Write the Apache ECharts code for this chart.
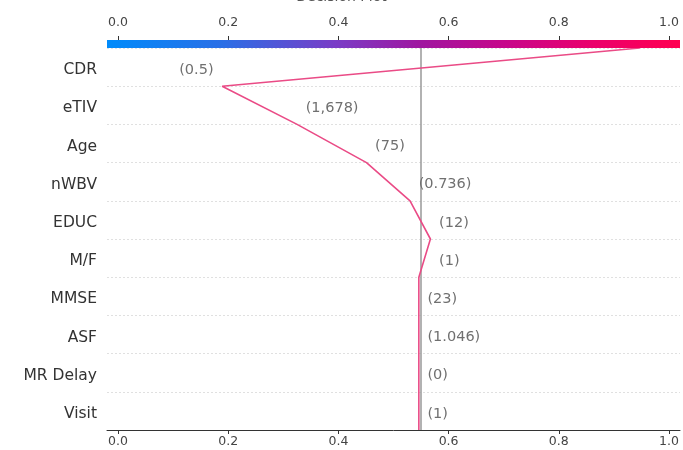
<!DOCTYPE html>
<html>
<head>
<meta charset="utf-8">
<script src="https://cdn.jsdelivr.net/npm/echarts@6/dist/echarts.min.js"></script>
<style>html,body{margin:0;padding:0;background:#fff;}#c{width:683px;height:450px;}</style>
</head>
<body>
<div id="c"></div>
<script>
// Features, top to bottom
var features = ['CDR', 'eTIV', 'Age', 'nWBV', 'EDUC', 'M/F', 'MMSE', 'ASF', 'MR Delay', 'Visit'];
// Feature values shown in parentheses
var featureValues = [0.5, 1678, 75, 0.736, 12, 1, 23, 1.046, 0, 1];
// Cumulative model output at row boundaries, from the top (final output) down to the base value
var boundaryValues = [0.947, 0.189, 0.325, 0.451, 0.530, 0.567, 0.546, 0.546, 0.546, 0.546, 0.546];
var baseValue = 0.546;
var tickValues = [0, 0.2, 0.4, 0.6, 0.8, 1.0];

function fmt(v) {
  var s = v.toLocaleString('en-US', {minimumFractionDigits: 3, maximumFractionDigits: 3});
  s = s.replace(/0+$/, '').replace(/\.$/, '');
  return '(' + s + ')';
}

var chart = echarts.init(document.getElementById('c'), null, {renderer: 'canvas'});
var X0 = 107, X1 = 680;
var XMIN = -0.02, XMAX = 1.02;

var lineData = boundaryValues.map(function (v, i) { return [v, i]; });

var labelData = features.map(function (f, i) {
  var a = boundaryValues[i], b = boundaryValues[i + 1];
  var mx = Math.max(a, b), mn = Math.min(a, b);
  var right = mx < 0.85;
  return {
    value: [right ? mx : mn, i + 0.5],
    label: {
      show: true,
      formatter: right ? ' ' + fmt(featureValues[i]) : fmt(featureValues[i]) + ' ',
      position: right ? 'right' : 'left',
      distance: 4,
      offset: [0, 3],
      color: '#707070',
      fontSize: 14.5,
      fontFamily: 'DejaVu Sans'
    }
  };
});

var nameData = features.map(function (f, i) {
  return {
    value: [XMIN, i + 0.5],
    label: {
      show: true, formatter: f, position: 'left', distance: 10, offset: [0, 3],
      color: '#333', fontSize: 15.5, fontFamily: 'DejaVu Sans'
    }
  };
});

var option = {
  animation: false,
  backgroundColor: '#ffffff',
  title: {
    text: 'Decision Plot',
    left: 'center', top: -15,
    textStyle: {fontSize: 14, fontWeight: 'normal', color: '#555', fontFamily: 'DejaVu Sans'}
  },
  grid: {left: X0, right: 683 - X1, top: 48, bottom: 20, containLabel: false},
  xAxis: [{
    type: 'value', min: XMIN, max: XMAX, position: 'bottom',
    axisLine: {show: true, onZero: false, lineStyle: {color: '#333', width: 1}},
    axisTick: {show: true, customValues: tickValues, length: 4, lineStyle: {color: '#333'}},
    axisLabel: {show: true, customValues: tickValues, color: '#444', fontSize: 12.5, fontFamily: 'DejaVu Sans',
      margin: 5, formatter: function (v) { return v.toFixed(1); }},
    splitLine: {show: false}
  }, {
    type: 'value', min: XMIN, max: XMAX, position: 'top', offset: 8,
    axisLine: {show: false, onZero: false},
    axisTick: {show: true, customValues: tickValues, length: 4, lineStyle: {color: '#333'}},
    axisLabel: {show: true, customValues: tickValues, color: '#444', fontSize: 12.5, fontFamily: 'DejaVu Sans',
      margin: 11, formatter: function (v) { return v.toFixed(1); }},
    splitLine: {show: false}
  }],
  yAxis: [{
    type: 'category', data: features, inverse: true, boundaryGap: true,
    axisLine: {show: false}, axisTick: {show: false},
    axisLabel: {show: false},
    splitLine: {show: true, lineStyle: {color: '#e0e0e0', type: [2, 2], width: 1}}
  }, {
    type: 'value', min: 0, max: features.length, inverse: true, show: false
  }],
  series: [{
    type: 'line', xAxisIndex: 0, yAxisIndex: 1,
    data: lineData, symbol: 'none', silent: true,
    lineStyle: {color: '#ea4b86', width: 1.6},
    z: 5,
    markLine: {
      silent: true, symbol: 'none', label: {show: false},
      lineStyle: {color: '#999999', type: 'solid', width: 1.5},
      data: [{xAxis: baseValue}],
      z: 3
    }
  }, {
    type: 'scatter', xAxisIndex: 0, yAxisIndex: 1,
    data: labelData, symbolSize: 0, silent: true, z: 6,
    itemStyle: {opacity: 1}
  }, {
    type: 'scatter', xAxisIndex: 0, yAxisIndex: 1,
    data: nameData, symbolSize: 0, silent: true, z: 6,
    itemStyle: {opacity: 1}
  }],
  graphic: [{
    type: 'rect', left: X0, top: 40, z: 10,
    shape: {width: X1 - X0, height: 8},
    style: {
      fill: new echarts.graphic.LinearGradient(0, 0, 1, 0, [
        {offset: 0, color: '#008bfb'},
        {offset: 0.2, color: '#2a6fe6'},
        {offset: 0.4, color: '#7a3cc6'},
        {offset: 0.55, color: '#a0169f'},
        {offset: 0.7, color: '#c8068a'},
        {offset: 0.85, color: '#eb006b'},
        {offset: 1, color: '#ff0051'}
      ])
    }
  }]
};
chart.setOption(option);
</script>
</body>
</html>
